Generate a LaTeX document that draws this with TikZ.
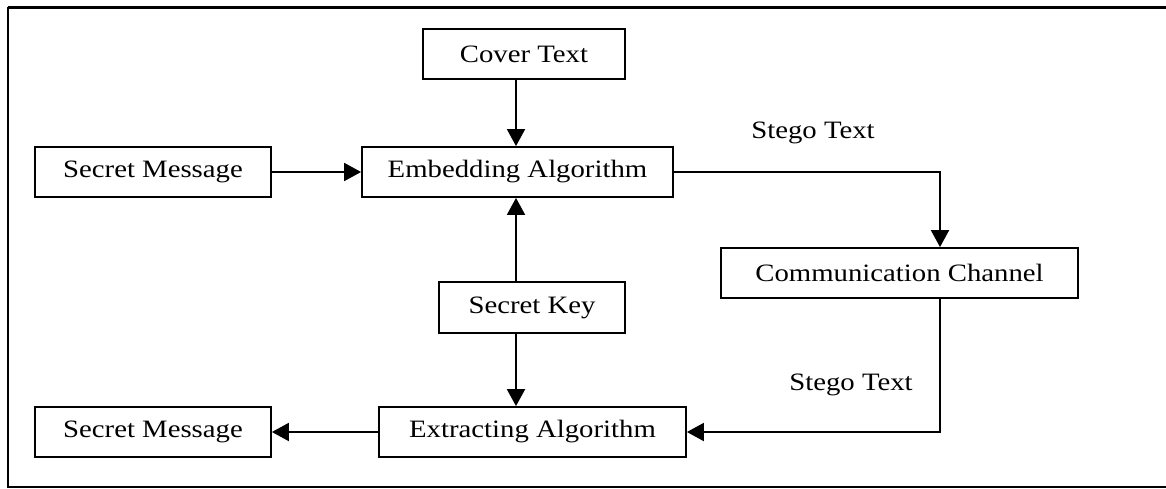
\documentclass[tikz,border=0pt]{standalone}
\usepackage{fontspec}
\setmainfont{Liberation Serif}[FakeStretch=1.15]
\usetikzlibrary{arrows.meta}
\begin{document}
\begin{tikzpicture}[x=1pt,y=-1pt,
  box/.style={draw=black,line width=1.8pt,inner sep=0pt,minimum height=50pt,
    font=\fontsize{25}{29}\selectfont},
  lbl/.style={inner sep=0pt,font=\fontsize{25}{29}\selectfont},
  arr/.style={line width=1.9pt,-{Triangle[width=18pt,length=17pt]}}]
\useasboundingbox (0,0) rectangle (1166,489);
\clip (0,0) rectangle (1166,489);
\fill[white] (0,0) rectangle (1166,489);
\draw[line width=2.6pt] (8,7.5) -- (1180,7.5) (8,7.5) -- (8,487) -- (1180,487);
\node[box,minimum width=202pt] (cover) at (524,54) {Cover Text};
\node[box,minimum width=236pt] (sm1) at (153,172) {Secret Message};
\node[box,minimum width=311pt] (emb) at (517.5,172) {Embedding Algorithm};
\node[lbl] (st1) at (813,133) {Stego Text};
\node[box,minimum width=357pt] (comm) at (899.5,273) {Communication Channel};
\node[box,minimum width=186pt,minimum height=51pt] (key) at (532,307.5) {Secret Key};
\node[lbl] (st2) at (851,385) {Stego Text};
\node[box,minimum width=307pt] (ext) at (532.5,432) {Extracting Algorithm};
\node[box,minimum width=236pt] (sm2) at (153,432) {Secret Message};
\coordinate (colc) at (516,0);
\coordinate (colr) at (940,0);
\draw[arr] (cover.south -| colc) -- (emb.north -| colc);
\draw[arr] (sm1.east) -- (emb.west);
\draw[arr] (key.north -| colc) -- (emb.south -| colc);
\draw[arr] (key.south -| colc) -- (ext.north -| colc);
\draw[arr] (emb.east) -| (colr |- comm.north);
\draw[arr] (colr |- comm.south) |- (ext.east);
\draw[arr] (ext.west) -- (sm2.east);
\end{tikzpicture}
\end{document}
